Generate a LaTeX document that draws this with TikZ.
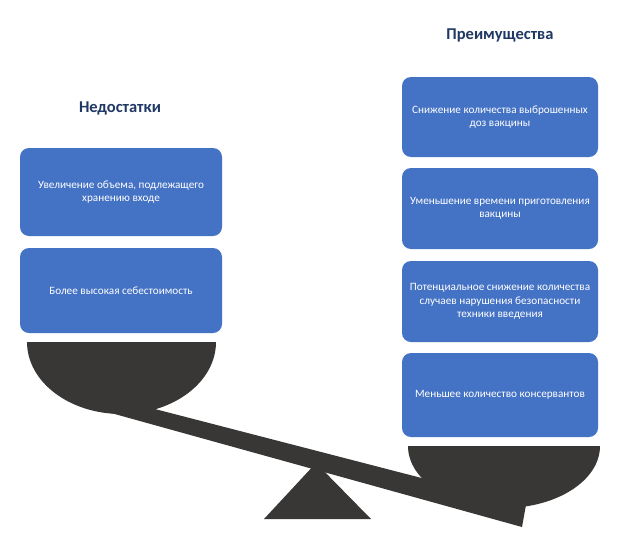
\documentclass[tikz,border=0pt]{standalone}
\usepackage{fontspec}
\setmainfont{Carlito}
\begin{document}
\begin{tikzpicture}[x=1pt,y=-1pt,
 box/.style={draw=none,fill=blueA,rounded corners=9pt,text=white,align=center,font=\fontsize{11.2}{13.5}\selectfont},
 ttl/.style={font=\fontsize{16.5}{19}\selectfont\bfseries,text=titleC},
 dark/.style={fill=darkC,draw=none}]
\definecolor{blueA}{HTML}{4472C4}
\definecolor{titleC}{HTML}{1F3864}
\definecolor{darkC}{HTML}{383736}
\useasboundingbox[fill=white] (0,0) rectangle (620,538);
\node[ttl] (tl) at (120,108) {Недостатки};
\node[ttl] (tr) at (500,35) {Преимущества};
\node[box,minimum width=202pt,minimum height=88pt] (l1) at (121,192) {Увеличение объема, подлежащего\\хранению входе};
\node[box,minimum width=202pt,minimum height=85pt] (l2) at (121,290.5) {Более высокая себестоимость};
\node[box,minimum width=196pt,minimum height=80pt] (r1) at (500,117) {Снижение количества выброшенных\\доз вакцины};
\node[box,minimum width=196pt,minimum height=81pt] (r2) at (500,208.5) {Уменьшение времени приготовления\\вакцины};
\node[box,minimum width=196pt,minimum height=81pt] (r3) at (500,301.5) {Потенциальное снижение количества\\случаев нарушения безопасности\\техники введения};
\node[box,minimum width=196pt,minimum height=84pt] (r4) at (500,395) {Меньшее количество консервантов};
% fulcrum
\fill[darkC] (316,463) -- (371,519) -- (264,519) -- cycle;
% beam
\fill[darkC] (93,393) -- (526,505) -- (522,527) -- (93,408) -- cycle;
% pans
\fill[darkC] (27,342) -- (216,342) arc[start angle=0,end angle=180,x radius=94.5,y radius=72] -- cycle;
\fill[darkC] (408,446) -- (600,446) arc[start angle=0,end angle=180,x radius=96,y radius=62] -- cycle;
\end{tikzpicture}
\end{document}
